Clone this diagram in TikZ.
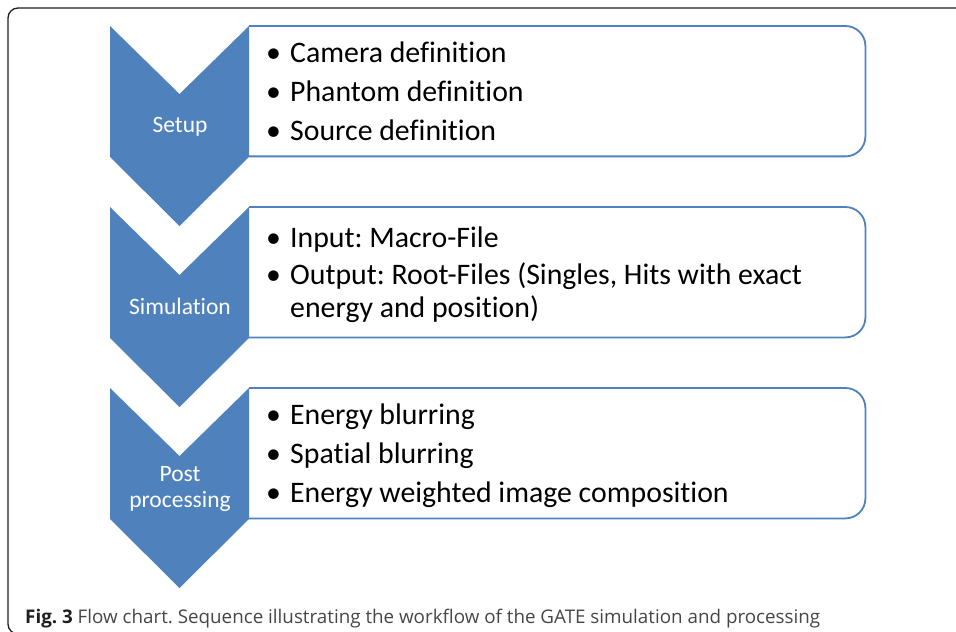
\documentclass[tikz,border=0pt]{standalone}
\usepackage{fontspec}
\setmainfont{Carlito}[Ligatures={NoCommon,NoRare,NoDiscretionary}]
\newfontfamily\capfont{Open Sans}
\usepackage{xcolor}
\definecolor{stageBlue}{RGB}{79,129,189}
\definecolor{frameGray}{RGB}{30,30,30}
\definecolor{capGray}{RGB}{70,70,70}
\usetikzlibrary{positioning}
\tikzstyle{chevron} = [fill=stageBlue, draw=none]
\tikzstyle{stage} = [text=white, align=center, inner sep=0pt, font=\fontsize{23.5bp}{26bp}\selectfont]
\tikzstyle{boxarea} = [anchor=north west, inner sep=0pt, minimum width=616bp, minimum height=130bp]
\tikzstyle{listbox} = [draw=stageBlue, line width=1.8bp, rounded corners=20bp]
\tikzstyle{items} = [anchor=west, align=left, inner sep=0pt, font=\fontsize{29.8bp}{39bp}\selectfont]
\newcommand{\bul}{\makebox[24bp][l]{\textbullet}}
\frenchspacing

\begin{document}
\begin{tikzpicture}[x=1bp, y=-1bp]
        \useasboundingbox (0,0) rectangle (956,632);
        % outer frame
        \draw[frameGray, line width=1.3bp, rounded corners=10bp] (8,8) rectangle (990,634);

        % We start by placing the boxes
        \node [boxarea] (setupBox) at (249,26) {};
        \node [boxarea] (simBox) at (249,207) {};
        \node [boxarea] (postBox) at (249,388) {};

        \draw [listbox] (setupBox.north west) -- (setupBox.north east) -- (setupBox.south east) -- (setupBox.south west);
        \draw [listbox] (simBox.north west) -- (simBox.north east) -- (simBox.south east) -- (simBox.south west);
        \draw [listbox] (postBox.north west) -- (postBox.north east) -- (postBox.south east) -- (postBox.south west);

        % the chevrons left of the boxes
        \fill [chevron] (setupBox.north west) -- ++(-69.5,68) -- ++(-69.5,-68) -- ++(0,131) -- ++(69.5,69) -- ++(69.5,-69) -- cycle;
        \fill [chevron] (simBox.north west) -- ++(-69.5,68) -- ++(-69.5,-68) -- ++(0,131) -- ++(69.5,69) -- ++(69.5,-69) -- cycle;
        \fill [chevron] (postBox.north west) -- ++(-69.5,68) -- ++(-69.5,-68) -- ++(0,131) -- ++(69.5,69) -- ++(69.5,-69) -- cycle;

        \node [stage, anchor=base] (setupLabel) at (180,133) {Setup};
        \node [stage, anchor=base] (simLabel) at (180,314) {Simulation};
        \node [stage] (postLabel) at (180,489) {Post\\processing};

        % Once the boxes are placed, the lists go inside
        \node [items, right=17bp of setupBox.west] (setupList) {\bul Camera definition\\ \bul Phantom definition\\ \bul Source definition};
        \node [items, right=17bp of simBox.west, yshift=-2.5bp] (simList) {\bul Input: Macro-File\\[-2bp] \bul Output: Root-Files (Singles, Hits with exact\\[-6bp] \makebox[24bp]{}energy and position)};
        \node [items, right=17bp of postBox.west, yshift=-3bp] (postList) {\bul Energy blurring\\ \bul Spatial blurring\\ \bul Energy weighted image composition};

        \node [anchor=base west, inner sep=0pt, text=capGray, font=\capfont\fontsize{18.8bp}{20bp}\selectfont] (caption) at (25,623)
            {\textcolor{frameGray}{\bfseries Fig. 3} Flow chart. Sequence illustrating the workflow of the GATE simulation and processing};
\end{tikzpicture}
\end{document}
